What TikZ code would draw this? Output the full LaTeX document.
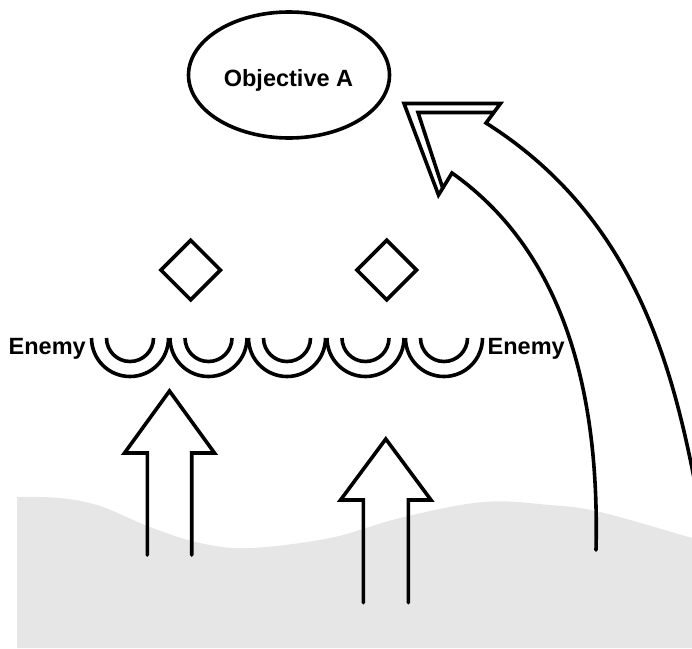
\documentclass[tikz,border=0pt]{standalone}
\usepackage{fontspec}
\setmainfont{Liberation Sans}
\usetikzlibrary{shapes.geometric}
\definecolor{ground}{HTML}{E6E6E6}
\begin{document}
\begin{tikzpicture}[x=1pt,y=-1pt,
  outl/.style={draw=black, line width=3.6pt, line join=miter},
  lbl/.style={inner sep=0pt, font=\fontsize{23.5}{28}\selectfont\bfseries},
  gem/.style={diamond, draw=black, line width=3.6pt, minimum width=61pt, minimum height=61pt, inner sep=0pt},
  objshape/.style={ellipse, draw=black, line width=3.6pt, minimum width=201pt, minimum height=126pt, inner sep=0pt},
  arcline/.style={draw=black, line width=3.6pt}
]
\useasboundingbox (0,0) rectangle (692,648);
\clip (0,0) rectangle (692,648);
% ground
\fill[ground] (17,648) -- plot[smooth, tension=0.6] coordinates {(17,497) (60,498) (100,506) (150,527) (200,543) (250,548) (330,538) (400,518) (483,502) (550,505) (600,512) (692,538) (700,541)} -- (700,648) -- cycle;
% objective
\node[objshape] (objA) at (289,75) {};
\node[lbl, anchor=base] (objtext) at (288.5,86.7) {Objective A};
% diamonds
\node[gem] (d1) at (190.7,270) {};
\node[gem] (d2) at (386.7,270) {};
% enemy labels
\node[lbl, anchor=base west] (enL) at (8.5,354) {Enemy};
\node[lbl, anchor=base west] (enR) at (487.5,354) {Enemy};
% arcs
\foreach \cx in {130,208.5,287,365.5,444} {
  \draw[arcline] (\cx-38.5,338) arc[start angle=180, end angle=0, radius=38.5];
  \draw[arcline] (\cx-23.5,338) arc[start angle=180, end angle=0, radius=23.5];
}
% up arrows
\draw[outl, line cap=round] (147.3,555) -- (147.3,453) -- (124.5,453) -- (169.5,391) -- (214.5,453) -- (191.7,453) -- (191.7,555);
\draw[outl, line cap=round] (363.3,602.7) -- (363.3,500) -- (340.5,500) -- (385.8,439) -- (431,500) -- (408.3,500) -- (408.3,602.7);
% big curved arrow
\draw[outl, line cap=round] (694,478) .. controls (670,357) and (630,214) .. (486,123) -- (500.5,103.5) -- (404,103.5) -- (438.5,195) -- (452,173) .. controls (558,248) and (600,380) .. (596,550);
\draw[outl] (443,189) -- (418,112.5) -- (494,112.5);
\end{tikzpicture}
\end{document}
